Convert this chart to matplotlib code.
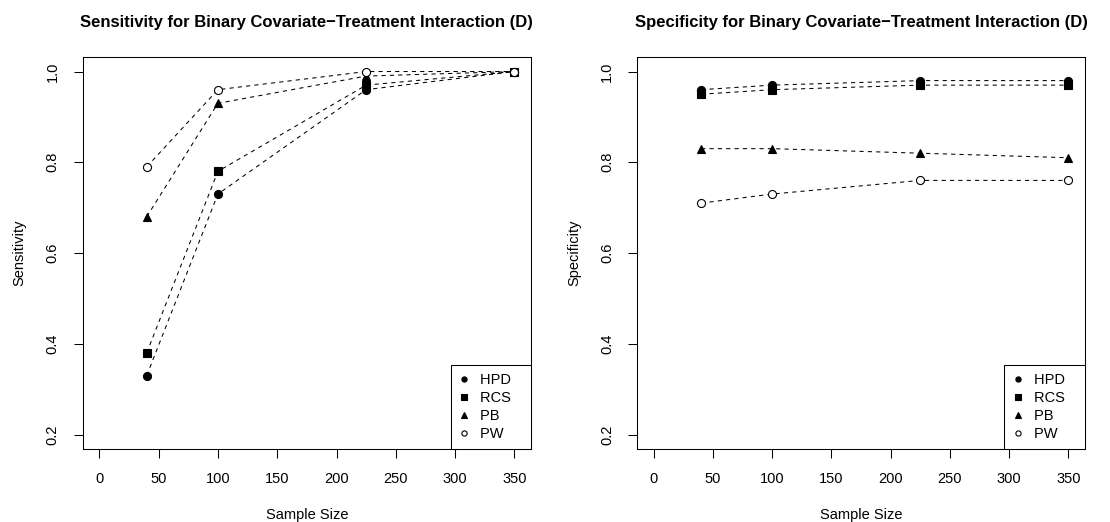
import matplotlib
matplotlib.use("Agg")
import matplotlib.pyplot as plt

plt.rcParams['font.family'] = ['Liberation Sans', 'DejaVu Sans']

sample_sizes = [40, 100, 225, 350]
methods = ["HPD", "RCS", "PB", "PW"]

sens_hpd = [0.33, 0.73, 0.96, 1.00]
sens_rcs = [0.38, 0.78, 0.97, 1.00]
sens_pb = [0.68, 0.93, 0.99, 1.00]
sens_pw = [0.79, 0.96, 1.00, 1.00]

spec_hpd = [0.96, 0.97, 0.98, 0.98]
spec_rcs = [0.95, 0.96, 0.97, 0.97]
spec_pb = [0.83, 0.83, 0.82, 0.81]
spec_pw = [0.71, 0.73, 0.76, 0.76]

x_ticks = [0, 50, 100, 150, 200, 250, 300, 350]
y_ticks = [0.2, 0.4, 0.6, 0.8, 1.0]

# R-like pch styles: 19, 15, 17, 1
styles = {
    "HPD": dict(marker='o', ms=5.8, mfc='black'),
    "RCS": dict(marker='s', ms=5.8, mfc='black'),
    "PB": dict(marker='^', ms=6.4, mfc='black'),
    "PW": dict(marker='o', ms=5.8, mfc='white'),
}


def draw_panel(ax, series, title, y_label):
    for name, y in zip(methods, series):
        st = styles[name]
        ax.plot(sample_sizes, y, color='black', lw=0.75, linestyle=(0, (4, 4)),
                marker=st['marker'], markersize=st['ms'], markerfacecolor=st['mfc'],
                markeredgecolor='black', markeredgewidth=0.8, label=name + "   ")

    # R default 4% axis padding
    ax.set_xlim(0 - 0.04 * 350, 350 + 0.04 * 350)
    ax.set_ylim(0.2 - 0.04 * 0.8, 1.0 + 0.04 * 0.8)
    ax.set_xticks(x_ticks)
    ax.set_xticklabels([str(t) for t in x_ticks])
    ax.set_yticks(y_ticks)
    ax.set_yticklabels(["%.1f" % t for t in y_ticks], rotation=90, va='center')
    ax.tick_params(direction='out', length=6.5, width=0.75, labelsize=10.5, pad=10,
                   color='black')
    for s in ax.spines.values():
        s.set_linewidth(0.75)
        s.set_color('black')

    ax.set_title(title, fontsize=12, fontweight='bold', pad=21.5)
    ax.set_xlabel("Sample Size", fontsize=10.5, labelpad=16)
    ax.set_ylabel(y_label, fontsize=10.5, labelpad=14)

    leg = ax.legend(loc='lower right', borderaxespad=0, fancybox=False, framealpha=1,
                    edgecolor='black', fontsize=10.5, markerscale=0.65, handlelength=0.8,
                    handletextpad=0.64, labelspacing=0.28, borderpad=0.55)
    leg.get_frame().set_linewidth(0.75)
    for h in leg.legend_handles:
        h.set_linestyle('None')


fig = plt.figure(figsize=(11.1, 5.22), dpi=100)
ax1 = fig.add_axes([0.0745, 0.1398, 0.4039, 0.751])
ax2 = fig.add_axes([0.5741, 0.1398, 0.4033, 0.751])

draw_panel(ax1, [sens_hpd, sens_rcs, sens_pb, sens_pw],
           "Sensitivity for Binary Covariate\u2212Treatment Interaction (D)", "Sensitivity")
draw_panel(ax2, [spec_hpd, spec_rcs, spec_pb, spec_pw],
           "Specificity for Binary Covariate\u2212Treatment Interaction (D)", "Specificity")

fig.savefig("out.png", dpi=100)
